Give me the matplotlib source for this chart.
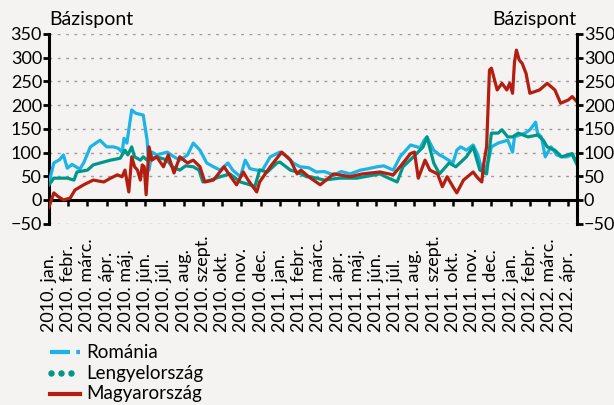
import numpy as np
import matplotlib.pyplot as plt
from matplotlib.lines import Line2D
import matplotlib.transforms as mtransforms

# x in month units: 0 = 2010. jan., 27 = 2012. ápr.
tick_labels = [
    "2010. jan.", "2010. febr.", "2010. márc.", "2010. ápr.", "2010. máj.",
    "2010. jún.", "2010. júl.", "2010. aug.", "2010. szept.", "2010. okt.",
    "2010. nov.", "2010. dec.", "2011. jan.", "2011. febr.", "2011. márc.",
    "2011. ápr.", "2011. máj.", "2011. jún.", "2011. júl.", "2011. aug.",
    "2011. szept.", "2011. okt.", "2011. nov.", "2011. dec.", "2012. jan.",
    "2012. febr.", "2012. márc.", "2012. ápr.",
]

ro_t = [0.0, 0.25, 0.55, 0.75, 0.95, 1.2, 1.6, 1.8, 2.15, 2.65, 3.0, 3.35, 3.6, 3.8,
        3.9, 4.05, 4.3, 4.5, 4.9, 5.1, 5.2, 5.35, 5.6, 6.15, 6.5, 6.8, 7.2, 7.5, 7.85,
        8.2, 8.55, 8.9, 9.3, 9.55, 9.95, 10.2, 10.45, 10.8, 11.1, 11.5, 12.0, 12.4,
        12.7, 13.05, 13.5, 13.9, 14.3, 14.8, 15.2, 15.65, 16.2, 16.6, 17.05, 17.4,
        17.9, 18.25, 18.8, 19.3, 19.5, 19.65, 20.0, 20.3, 20.5, 21.0, 21.2, 21.4,
        21.7, 22.05, 22.3, 22.5, 22.65, 22.85, 23.0, 23.35, 23.85, 24.1, 24.2, 24.75,
        25.0, 25.3, 25.4, 25.6, 25.8, 26.1, 26.4, 26.65, 26.9, 27.2, 27.45]
ro_v = [36, 78, 85, 95, 67, 75, 65, 78, 112, 126, 112, 112, 109, 101,
        130, 120, 190, 183, 179, 126, 63, 101, 95, 101, 91, 84, 95, 120, 105,
        78, 70, 63, 78, 63, 49, 84, 66, 63, 63, 91, 101, 91,
        78, 70, 68, 59, 60, 53, 60, 55, 63, 66, 70, 72,
        63, 91, 116, 110, 126, 133, 105, 95, 91, 78, 105, 112,
        105, 116, 95, 63, 57, 84, 112, 120, 126, 101, 133, 141,
        148, 164, 141, 133, 91, 112, 95, 91, 91, 95, 74]

pl_t = [0.0, 0.25, 0.95, 1.3, 1.45, 2.0, 2.3, 2.65, 3.2, 3.7, 3.95, 4.1, 4.3, 4.45,
        4.75, 4.9, 5.1, 5.6, 6.15, 6.4, 6.8, 7.1, 7.5, 7.8, 8.0, 8.4, 8.9, 9.4,
        9.95, 10.45, 10.7, 10.95, 11.35, 11.85, 12.0, 12.55, 12.9, 13.4, 13.6, 14.3,
        15.1, 16.0, 16.4, 17.2, 17.5, 18.1, 18.4, 18.95, 19.45, 19.65, 20.0, 20.3,
        20.8, 21.15, 21.7, 22.05, 22.4, 22.75, 22.85, 23.0, 23.35, 23.55, 23.85, 24.1,
        24.4, 24.9, 25.4, 25.7, 25.9, 26.3, 26.65, 27.2, 27.45]
pl_v = [32, 46, 46, 42, 59, 63, 74, 78, 84, 88, 105, 95, 112, 91,
        84, 91, 84, 91, 84, 70, 63, 72, 70, 63, 38, 42, 49, 55,
        38, 32, 28, 63, 59, 78, 80, 63, 59, 49, 49, 42,
        46, 46, 49, 55, 49, 38, 70, 91, 112, 133, 78, 55,
        78, 70, 91, 112, 63, 55, 90, 141, 141, 148, 133, 133,
        141, 133, 137, 126, 112, 105, 91, 98, 77]

hu_t = [0.0, 0.25, 0.45, 0.75, 1.1, 1.35, 1.8, 2.3, 2.85, 3.2, 3.55, 3.8, 3.95, 4.15,
        4.3, 4.45, 4.6, 4.75, 4.85, 4.95, 5.05, 5.2, 5.35, 5.6, 5.95, 6.2, 6.5, 6.8,
        7.2, 7.5, 7.85, 8.1, 8.55, 9.1, 9.45, 9.75, 10.1, 10.35, 10.8, 10.95, 11.5,
        11.85, 12.1, 12.55, 12.9, 13.1, 13.5, 14.1, 14.8, 15.65, 16.3, 17.2, 17.9,
        18.25, 18.8, 19.0, 19.2, 19.55, 19.8, 20.2, 20.45, 20.7, 21.0, 21.2, 21.55,
        22.05, 22.3, 22.5, 22.6, 22.75, 22.9, 23.0, 23.3, 23.55, 23.8, 23.95, 24.1,
        24.2, 24.3, 24.45, 24.6, 24.8, 25.0, 25.5, 25.9, 26.3, 26.6, 27.0, 27.2, 27.45]
hu_v = [-15, 15, 8, 0, 4, 21, 32, 42, 38, 46, 53, 49, 63, 17,
        91, 70, 63, 42, 74, 70, 11, 112, 84, 91, 70, 95, 57, 91,
        78, 84, 70, 38, 42, 70, 49, 32, 59, 42, 17, 38, 70,
        88, 101, 84, 55, 63, 49, 32, 55, 49, 55, 59, 53,
        70, 98, 101, 46, 84, 63, 55, 28, 49, 28, 15, 42,
        59, 46, 38, 76, 112, 274, 278, 232, 246, 232, 246, 225,
        291, 316, 295, 288, 267, 225, 232, 246, 232, 204, 211, 218, 207]

series_names = ["Románia", "Lengyelország", "Magyarország"]

bg = "#f4f3f1"
c_ro = "#1cb3e6"
c_pl = "#00978a"
c_hu = "#b31e10"
plt.rcParams["font.family"] = ["Lato", "DejaVu Sans"]

W, H = 614, 405
fig = plt.figure(figsize=(W / 100, H / 100), dpi=100, facecolor=bg)
ax = fig.add_axes([49 / W, 1 - 223.7 / H, 528 / W, 189.7 / H])
ax.set_facecolor(bg)

ax.plot(ro_t, ro_v, color=c_ro, lw=2.3, zorder=3)
ax.plot(pl_t, pl_v, color=c_pl, lw=2.3, zorder=4)
ax.plot(hu_t, hu_v, color=c_hu, lw=2.3, zorder=5)

ax.set_xlim(0, 27.45)
ax.set_ylim(-50, 350)
yt = np.arange(-50, 351, 50)
ax.set_yticks(yt)
for y in yt:
    if y != 0:
        ax.axhline(y, color="#9a9a9a", lw=1, ls=(0, (2, 4)), zorder=1)

# month labels: start of text aligned at the bottom, reading upwards
ax.set_xticks([])
trans = mtransforms.blended_transform_factory(ax.transData, fig.transFigure)
for i, lab in enumerate(tick_labels):
    ax.text(i, 1 - 332 / H, lab, transform=trans, rotation=90,
            rotation_mode="anchor", ha="left", va="center", fontsize=13)

ax.tick_params(axis="y", direction="out", length=4, width=2, labelsize=13, pad=1)
for s in ["top", "bottom", "right"]:
    ax.spines[s].set_visible(False)
ax.spines["left"].set_linewidth(2.2)

# zero line with the month tick marks
zero = ax.secondary_xaxis(50 / 400)
zero.set_xticks(np.arange(28))
zero.set_xticklabels([])
zero.tick_params(direction="out", length=4, width=1.8)
zero.spines["bottom"].set_linewidth(2.2)

ax2 = ax.twinx()
ax2.set_ylim(-50, 350)
ax2.set_yticks(yt)
ax2.tick_params(axis="y", direction="out", length=4, width=2, labelsize=13, pad=1)
for s in ["top", "bottom", "left"]:
    ax2.spines[s].set_visible(False)
ax2.spines["right"].set_linewidth(2.2)

fig.text(49 / W, 1 - 20 / H, "Bázispont", fontsize=14, ha="left", va="center")
fig.text(576 / W, 1 - 20 / H, "Bázispont", fontsize=14, ha="right", va="center")

# legend drawn by hand
ly = [352, 373, 394]
fig.add_artist(Line2D([50 / W, 80 / W], [1 - ly[0] / H] * 2, color=c_ro, lw=3,
                      ls=(0, (4.8, 1.5)), transform=fig.transFigure))
fig.add_artist(Line2D([51 / W, 61 / W, 71 / W], [1 - ly[1] / H] * 3, color=c_pl,
                      ls="none", marker="o", ms=3.6, transform=fig.transFigure))
fig.add_artist(Line2D([50 / W, 80 / W], [1 - ly[2] / H] * 2, color=c_hu, lw=3,
                      transform=fig.transFigure))
for name, y in zip(series_names, ly):
    fig.text(86 / W, 1 - y / H, name, fontsize=13.5, ha="left", va="center")

fig.savefig("out.png", dpi=100, facecolor=bg)
